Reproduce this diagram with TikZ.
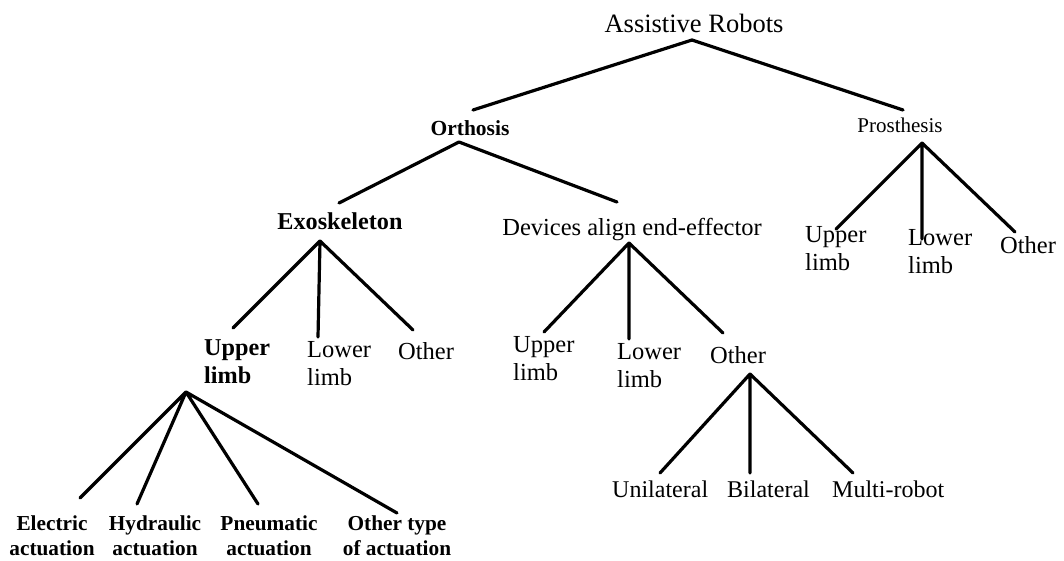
\documentclass[tikz,border=0pt]{standalone}
\usepackage{fontspec}
\setmainfont{Liberation Serif}
\begin{document}
\begin{tikzpicture}[x=1pt,y=-1pt,
  lbl/.style={inner sep=0pt, anchor=base},
  lbll/.style={inner sep=0pt, anchor=base west, align=left},
  lblc/.style={inner sep=0pt, anchor=base, align=center},
  big/.style={font=\fontsize{24.5}{28}\selectfont},
  small/.style={font=\fontsize{21.3}{24.5}\selectfont\bfseries},
  edge/.style={line width=3.2pt, line cap=round, line join=round}]
\useasboundingbox (0,0) rectangle (1064,560);
% nodes (multi-line nodes are placed by the baseline of their last line)
\node[lbl, font=\fontsize{26.5}{30}\selectfont] (root) at (694,32) {Assistive Robots};
\node[lbl, font=\fontsize{21.5}{25}\selectfont\bfseries] (orth) at (470,135) {Orthosis};
\node[lbl, font=\fontsize{21}{25}\selectfont] (pros) at (900,132) {Prosthesis};
\node[lbl, font=\fontsize{24.2}{28}\selectfont\bfseries] (exo) at (340,229) {Exoskeleton};
\node[lbl, big] (dev) at (632,235) {Devices align end-effector};
\node[lbll, font=\fontsize{24.2}{28}\selectfont\bfseries] (exoU) at (204,383) {Upper\\limb};
\node[lbll, big] (exoL) at (307,385) {Lower\\limb};
\node[lbll, big] (exoO) at (398,359) {Other};
\node[lbll, big] (devU) at (513,380) {Upper\\limb};
\node[lbll, big] (devL) at (617,387) {Lower\\limb};
\node[lbll, big] (devO) at (710,363) {Other};
\node[lbll, big] (prU) at (805,270) {Upper\\limb};
\node[lbll, big] (prL) at (908,273) {Lower\\limb};
\node[lbll, big] (prO) at (1000,253) {Other};
\node[lbll, font=\fontsize{24}{28}\selectfont] (uni) at (612,497) {Unilateral};
\node[lbll, font=\fontsize{24}{28}\selectfont] (bil) at (727,497) {Bilateral};
\node[lbll, font=\fontsize{24}{28}\selectfont] (mul) at (832,497) {Multi-robot};
\node[lblc, small] (ele) at (52,555) {Electric\\actuation};
\node[lblc, small] (hyd) at (155,555) {Hydraulic\\actuation};
\node[lblc, small] (pne) at (269,555) {Pneumatic\\actuation};
\node[lblc, small] (oth) at (397,555) {Other type\\of actuation};
% connector end points
\coordinate (rootA) at (692,40);
\coordinate (orthT) at (473,110);
\coordinate (prosT) at (903,110);
\coordinate (orthA) at (459,142);
\coordinate (exoT) at (339,203);
\coordinate (devT) at (617,202);
\coordinate (exoA) at (320,241);
\coordinate (exoUT) at (233,328);
\coordinate (exoLT) at (318,337);
\coordinate (exoOT) at (413,330);
\coordinate (devA) at (629,243);
\coordinate (devUT) at (544,332);
\coordinate (devLT) at (629,339);
\coordinate (devOT) at (723,333);
\coordinate (prosA) at (922,143);
\coordinate (prUT) at (836,229);
\coordinate (prLT) at (922,239);
\coordinate (prOT) at (1015,232);
\coordinate (othA) at (750,374);
\coordinate (uniT) at (660,473);
\coordinate (bilT) at (750,473);
\coordinate (mulT) at (853,473);
\coordinate (exoUA) at (186,392);
\coordinate (eleT) at (80,498);
\coordinate (hydT) at (137,504);
\coordinate (pneT) at (258,504);
\coordinate (othT) at (397,513);
% connectors
\draw[edge] (orthT) -- (rootA) -- (prosT);
\draw[edge] (exoT) -- (orthA) -- (devT);
\draw[edge] (exoA) -- (exoUT) (exoA) -- (exoLT) (exoA) -- (exoOT);
\draw[edge] (devA) -- (devUT) (devA) -- (devLT) (devA) -- (devOT);
\draw[edge] (prosA) -- (prUT) (prosA) -- (prLT) (prosA) -- (prOT);
\draw[edge] (othA) -- (uniT) (othA) -- (bilT) (othA) -- (mulT);
\draw[edge] (exoUA) -- (eleT) (exoUA) -- (hydT) (exoUA) -- (pneT) (exoUA) -- (othT);
\end{tikzpicture}
\end{document}
